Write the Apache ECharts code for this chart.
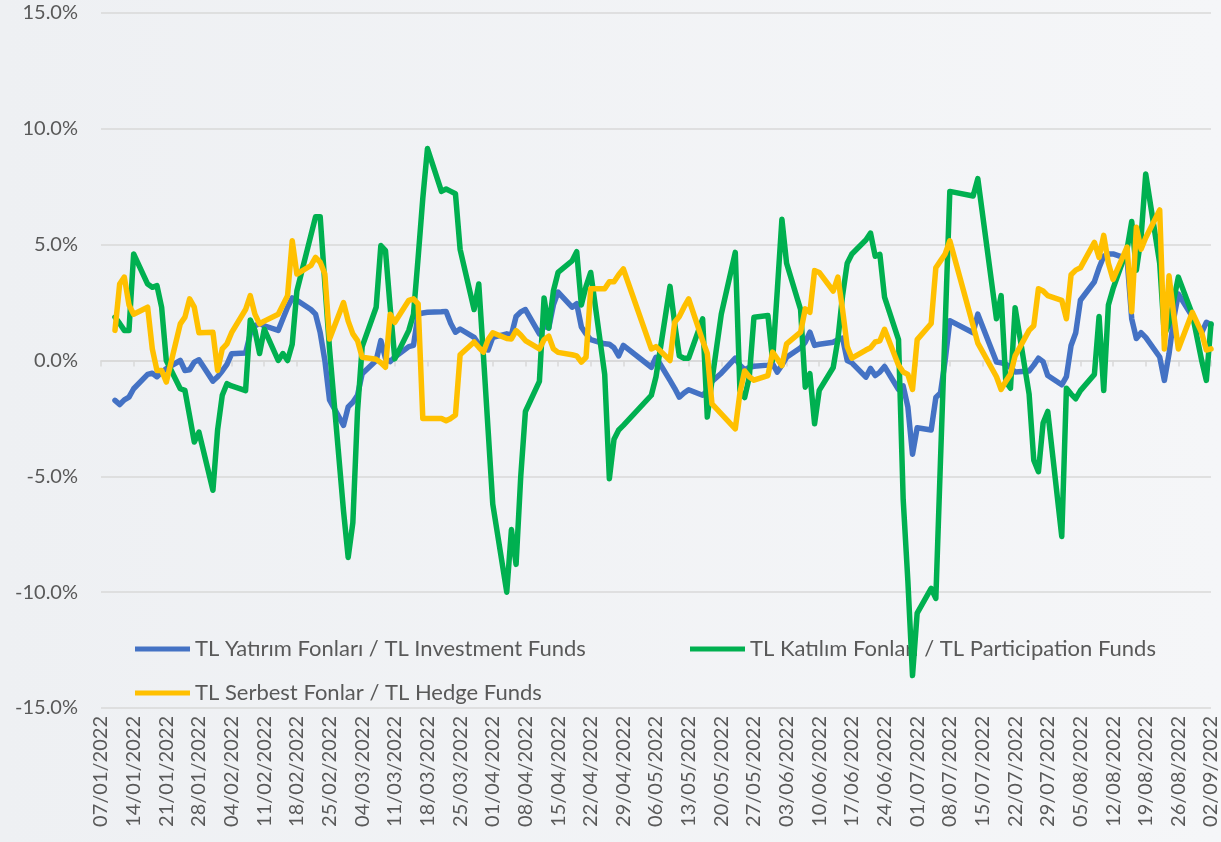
<!DOCTYPE html>
<html>
<head>
<meta charset="utf-8">
<script src="https://cdn.jsdelivr.net/npm/echarts@6/dist/echarts.min.js"></script>
<style>
  html, body { margin: 0; padding: 0; background: #f0f2f4; }
  #chart { width: 1221px; height: 842px; }
</style>
</head>
<body>
<div id="chart"></div>
<script>
// seri adları
const seriesNames = [
  'TL Yatırım Fonları / TL Investment Funds',
  'TL Katılım Fonları / TL Participation Funds',
  'TL Serbest Fonlar / TL Hedge Funds',
]
const seriesColors = ['#4472C4', '#00B050', '#FFC000']

// iş günleri 10/01/2022 - 02/09/2022, haftada 5 değer (Pzt-Cum), tatiller null
const investment = [
  -1.72, -1.9, -1.7, -1.58, -1.22,
  -0.6, -0.55, -0.7, -0.5, -0.35,
  0.0, -0.43, -0.4, -0.07, 0.03,
  -0.89, -0.7, -0.45, -0.17, 0.29,
  0.32, 1.15, 1.5, 1.6, 1.5,
  1.3, 1.8, 2.3, 2.7, 2.6,
  2.2, 2.0, 1.2, 0.0, -1.7,
  -2.8, -2.0, -1.8, -1.5, -0.57,
  0.0, 0.86, 0.1, -0.05, 0.15,
  0.6, 0.65, 2.0, 2.05, 2.08,
  2.1, 2.12, 1.6, 1.22, 1.36,
  1.0, 0.7, 0.5, 0.45, 1.0,
  1.15, 1.1, 1.9, 2.1, 2.2,
  1.15, 1.5, 1.4, 2.4, 2.95,
  2.3, 2.45, 1.45, 1.15, 0.9,
  0.72, 0.7, 0.55, 0.2, 0.65,
  null, null, null, -0.29, 0.14,
  -0.86, -1.2, -1.58, -1.4, -1.26,
  -1.5, -1.3, -0.9, null, -0.55,
  0.1, -0.2, -0.4, -0.3, -0.25,
  -0.2, -0.15, -0.5, -0.2, 0.14,
  0.55, 0.79, 1.22, 0.65, 0.7,
  0.79, 0.9, 0.97, 0.0, -0.1,
  -0.72, -0.34, -0.65, -0.5, -0.26,
  -1.25, -1.1, -2.0, -4.05, -2.9,
  -3.0, -1.6, -1.4, 0.0, 1.72,
  null, null, 1.2, 2.0, null,
  -0.07, -0.1, -0.15, -0.3, -0.5,
  -0.45, -0.2, 0.1, -0.05, -0.65,
  -1.05, -0.7, 0.65, 1.2, 2.6,
  3.4, 4.0, 4.5, 4.6, 4.6,
  4.4, 1.8, 0.95, 1.2, 1.0,
  0.15, -0.86, 0.29, 1.8, 2.87,
  1.9, null, 1.2, 1.65, 1.55,
]
const participation = [
  1.87, 1.6, 1.3, 1.3, 4.6,
  3.3, 3.16, 3.23, 2.3, 0.0,
  -1.22, -1.29, -2.4, -3.52, -3.09,
  -5.6, -3.0, -1.5, -1.0, -1.1,
  -1.3, 1.75, 1.3, 0.3, 1.35,
  0.0, 0.3, 0.0, 0.7, 3.0,
  5.4, 6.2, 6.2, 3.3, 0.5,
  -6.5, -8.5, -7.0, -2.2, 0.6,
  2.3, 4.96, 4.74, 2.3, 0.07,
  1.3, 2.0, 4.45, 7.0, 9.15,
  7.3, 7.4, 7.3, 7.2, 4.8,
  2.2, 3.3, 0.2, -3.0, -6.2,
  -10.0, -7.3, -8.8, -5.0, -2.2,
  -0.9, 2.7, 1.4, 3.0, 3.8,
  4.3, 4.7, 2.4, 3.2, 3.8,
  -0.6, -5.1, -3.4, -3.0, -2.8,
  null, null, null, -1.5, -0.7,
  3.2, 1.6, 0.2, 0.1, 0.1,
  1.8, -2.44, -0.86, null, 2.0,
  4.67, -1.3, -1.6, -0.72, 1.87,
  1.94, 0.0, 3.0, 6.1, 4.2,
  2.2, -1.15, -0.57, -2.73, -1.29,
  -0.3, 0.9, 2.8, 4.2, 4.6,
  5.2, 5.5, 4.5, 4.58, 2.74,
  0.9, -6.0, -9.5, -13.6, -10.9,
  -9.84, -10.27, -4.3, 1.5, 7.3,
  null, null, 7.1, 7.85, null,
  1.8, 2.8, -0.9, -1.2, 2.28,
  -1.45, -4.3, -4.8, -2.7, -2.2,
  -7.6, -1.2, -1.45, -1.65, -1.3,
  -0.6, 1.9, -1.3, 2.4, 3.1,
  4.8, 6.0, 3.9, 5.3, 8.05,
  4.2, 1.1, 1.6, 2.6, 3.6,
  2.0, null, 0.0, -0.86, 1.58,
]
const hedge = [
  1.3, 3.3, 3.6, 2.4, 2.0,
  2.3, 0.5, -0.43, -0.43, -0.93,
  1.58, 1.87, 2.66, 2.3, 1.2,
  1.22, -0.43, 0.5, 0.72, 1.2,
  2.2, 2.8, 2.0, 1.58, 1.7,
  2.0, 2.4, 2.8, 5.17, 3.73,
  4.1, 4.45, 4.24, 3.73, 0.93,
  2.5, 1.7, 1.15, 0.86, 0.14,
  0.05, -0.1, -0.29, 2.0, 1.65,
  2.6, 2.66, 2.44, -2.5, -2.5,
  -2.5, -2.6, -2.5, -2.35, 0.25,
  0.8, 0.57, 0.36, 0.9, 1.2,
  0.95, 0.93, 1.29, 1.1, 0.86,
  0.5, 0.9, 1.05, 0.5, 0.35,
  0.25, 0.2, -0.07, 0.14, 3.1,
  3.1, 3.4, 3.4, 3.7, 3.95,
  null, null, null, 0.5, 0.6,
  0.0, 1.65, 1.9, 2.3, 2.66,
  0.86, 0.3, -1.87, null, -2.3,
  -2.95, -1.4, -0.45, -0.7, -0.85,
  -0.65, 0.36, 0.07, -0.22, 0.72,
  1.22, 2.23, 2.08, 3.88, 3.8,
  3.0, 3.6, 2.2, 0.6, 0.1,
  0.45, 0.55, 0.8, 0.85, 1.35,
  -0.2, -0.5, -0.6, -1.25, 0.9,
  1.6, 4.0, 4.3, 4.6, 5.17,
  null, null, 1.5, 0.75, null,
  -0.7, -1.25, -0.9, -0.6, 0.2,
  1.3, 1.5, 3.1, 3.0, 2.8,
  2.6, 1.8, 3.7, 3.9, 4.0,
  5.1, 4.45, 5.4, 4.2, 3.5,
  4.9, 2.1, 5.75, 4.8, 5.3,
  6.5, 0.5, 3.66, 2.0, 0.5,
  2.08, null, 1.2, 0.45, 0.5,
]

const yTicks = [-15, -10, -5, 0, 5, 10, 15]
const fontFamily = 'Lato, "Open Sans", sans-serif'
const textColor = '#595959'
const gridColor = '#d9d9d9'

// takvim günleri (07/01/2022 - 02/09/2022), hafta sonları boş
const days = []
const dailyData = [[], [], []]
const sources = [investment, participation, hedge]
let k = 0
for (let t = Date.UTC(2022, 0, 7); t <= Date.UTC(2022, 8, 2); t += 86400000) {
  const d = new Date(t)
  const dd = String(d.getUTCDate()).padStart(2, '0')
  const mm = String(d.getUTCMonth() + 1).padStart(2, '0')
  days.push(`${dd}/${mm}/${d.getUTCFullYear()}`)
  const wd = d.getUTCDay()
  const isWorkday = wd >= 1 && wd <= 5 && days.length > 1
  sources.forEach((src, i) => dailyData[i].push(isWorkday ? src[k] : null))
  if (isWorkday) k++
}

const chart = echarts.init(document.getElementById('chart'))

const legendBase = {
  icon: 'rect',
  itemWidth: 55,
  itemHeight: 5,
  itemGap: 5,
  padding: 0,
  z: 1,
  selectedMode: false,
  textStyle: { fontSize: 22, color: textColor, fontFamily },
}

const option = {
  animation: false,
  backgroundColor: {
    type: 'linear', x: 0, y: 0, x2: 1, y2: 0,
    colorStops: [{ offset: 0, color: '#eef0f3' }, { offset: 1, color: '#f5f6f8' }],
  },
  grid: { left: 101, right: 9, top: 13, bottom: 134 },
  legend: [
    { ...legendBase, data: [seriesNames[0]], left: 135, top: 638 },
    { ...legendBase, data: [seriesNames[1]], left: 690, top: 638 },
    { ...legendBase, data: [seriesNames[2]], left: 135, top: 682 },
  ],
  xAxis: [
    {
      type: 'category',
      data: days,
      boundaryGap: false,
      position: 'bottom',
      axisLine: { show: false, onZero: false },
      axisTick: { show: false },
      splitLine: { show: false },
      axisLabel: {
        interval: 6,
        rotate: 90,
        margin: 8,
        fontSize: 20,
        color: textColor,
        fontFamily,
      },
    },
    {
      type: 'category',
      data: days,
      boundaryGap: false,
      position: 'bottom',
      axisLine: { show: true, onZero: true, lineStyle: { color: gridColor, width: 1.5 } },
      axisTick: { show: true, interval: 6, length: 6, lineStyle: { color: gridColor, width: 1.5 } },
      axisLabel: { show: false },
      splitLine: { show: false },
    },
  ],
  yAxis: {
    type: 'value',
    min: yTicks[0],
    max: yTicks[yTicks.length - 1],
    interval: 5,
    axisLine: { show: false },
    axisTick: { show: false },
    splitLine: { lineStyle: { color: gridColor, width: 1.5 } },
    axisLabel: {
      margin: 23,
      fontSize: 20,
      color: textColor,
      fontFamily,
      formatter: (v) => v.toFixed(1) + '%',
    },
  },
  series: seriesNames.map((name, i) => ({
    name,
    type: 'line',
    xAxisIndex: 0,
    data: dailyData[i],
    connectNulls: true,
    showSymbol: false,
    symbol: 'none',
    color: seriesColors[i],
    lineStyle: { width: 5.5, color: seriesColors[i], cap: 'round', join: 'round' },
    z: 2 + i,
  })),
}

chart.setOption(option)
</script>
</body>
</html>
